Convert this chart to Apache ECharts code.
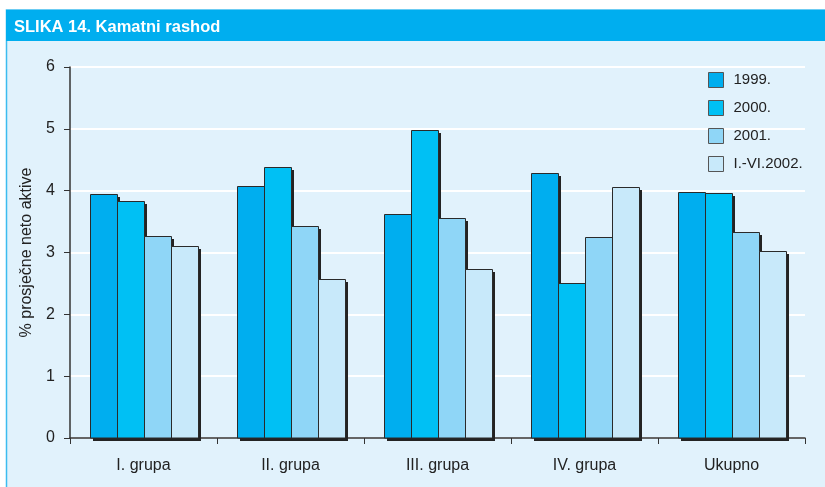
<!DOCTYPE html>
<html>
<head>
<meta charset="utf-8">
<script src="https://cdn.jsdelivr.net/npm/echarts@6/dist/echarts.min.js"></script>
<style>
  html, body { margin: 0; padding: 0; background: #ffffff; }
  #chart { width: 825px; height: 487px; }
</style>
</head>
<body>
<div id="chart"></div>
<script>
// Interest expense by bank group, % of average net assets
const categories = ['I. grupa', 'II. grupa', 'III. grupa', 'IV. grupa', 'Ukupno'];
const seriesNames = ['1999.', '2000.', '2001.', 'I.-VI.2002.'];
const values1999 = [3.94, 4.07, 3.62, 4.28, 3.98];
const values2000 = [3.83, 4.38, 4.98, 2.51, 3.96];
const values2001 = [3.26, 3.43, 3.55, 3.25, 3.33];
const values2002 = [3.11, 2.57, 2.74, 4.06, 3.02];
const yTicks = [0, 1, 2, 3, 4, 5, 6];

const seriesValues = [values1999, values2000, values2001, values2002];
const colors = ['#00aeef', '#00c0f4', '#8fd6f7', '#c8e9fa'];
const fontFamily = '"Liberation Sans", Arial, Helvetica, sans-serif';
const BAR_W = 27;        // width of one bar, px
const SHADOW = 3;        // drop shadow offset, px

// Bars with a hard drop shadow; later series cover the shadow of earlier ones.
function makeRenderer(seriesIndex, count) {
  return function (params, api) {
    const cat = api.value(0);
    const val = api.value(1);
    const base = api.coord([cat, 0]);
    const top = api.coord([cat, val]);
    const x = Math.round(base[0] - (count / 2) * BAR_W + seriesIndex * BAR_W + 0.5);
    const yTop = Math.round(top[1]);
    const yBase = Math.round(base[1]);
    const h = yBase - yTop;
    return {
      type: 'group',
      children: [
        {
          type: 'rect',
          shape: { x: x + SHADOW, y: yTop + SHADOW, width: BAR_W, height: h },
          style: { fill: '#232323' }
        },
        {
          type: 'rect',
          shape: { x: x + 0.5, y: yTop + 0.5, width: BAR_W, height: h - 0.5 },
          style: { fill: colors[seriesIndex], stroke: '#2a2a2a', lineWidth: 1 }
        }
      ]
    };
  };
}

const chart = echarts.init(document.getElementById('chart'), null, { renderer: 'canvas' });

chart.setOption({
  animation: false,
  backgroundColor: '#ffffff',
  textStyle: { fontFamily: fontFamily },
  graphic: [
    {
      type: 'rect', z: -10, silent: true,
      shape: { x: 6.5, y: 10, width: 830, height: 490 },
      style: { fill: '#e1f2fc', stroke: '#3cbcef', lineWidth: 1.5 }
    },
    {
      type: 'rect', z: -9, silent: true,
      shape: { x: 6, y: 10, width: 830, height: 31 },
      style: { fill: '#00aeef' }
    },
    {
      type: 'text', silent: true,
      left: 14, top: 19,
      style: {
        text: 'SLIKA 14. Kamatni rashod',
        fill: '#ffffff',
        font: 'bold 16.5px ' + fontFamily
      }
    }
  ],
  grid: { left: 70, right: 20, top: 67, bottom: 49, containLabel: false },
  legend: {
    orient: 'vertical',
    left: 708,
    top: 72,
    padding: 0,
    itemWidth: 15,
    itemHeight: 15,
    itemGap: 12,
    icon: 'rect',
    data: seriesNames,
    textStyle: { fontSize: 15, color: '#222', fontFamily: fontFamily, padding: [0, 0, 0, 5] },
    itemStyle: { borderColor: '#555', borderWidth: 1 }
  },
  xAxis: {
    type: 'category',
    data: categories,
    axisLine: { show: true, lineStyle: { color: '#333', width: 1.5 } },
    axisTick: { show: true, length: 6, lineStyle: { color: '#333' } },
    axisLabel: { fontSize: 16, color: '#222', margin: 20 }
  },
  yAxis: {
    type: 'value',
    min: yTicks[0],
    max: yTicks[yTicks.length - 1],
    interval: 1,
    name: '% prosječne neto aktive',
    nameLocation: 'middle',
    nameGap: 35,
    nameTextStyle: { fontSize: 16, color: '#222' },
    axisLine: { show: true, lineStyle: { color: '#333', width: 1.5 } },
    axisTick: { show: true, length: 6, lineStyle: { color: '#333' } },
    axisLabel: { fontSize: 16, color: '#222', margin: 15 },
    splitLine: { show: true, lineStyle: { color: '#ffffff', width: 2 } }
  },
  series: seriesNames.map((name, i) => ({
    name: name,
    type: 'custom',
    renderItem: makeRenderer(i, seriesNames.length),
    itemStyle: { color: colors[i] },
    encode: { x: 0, y: 1 },
    data: seriesValues[i].map((v, j) => [j, v])
  }))
});
</script>
</body>
</html>
